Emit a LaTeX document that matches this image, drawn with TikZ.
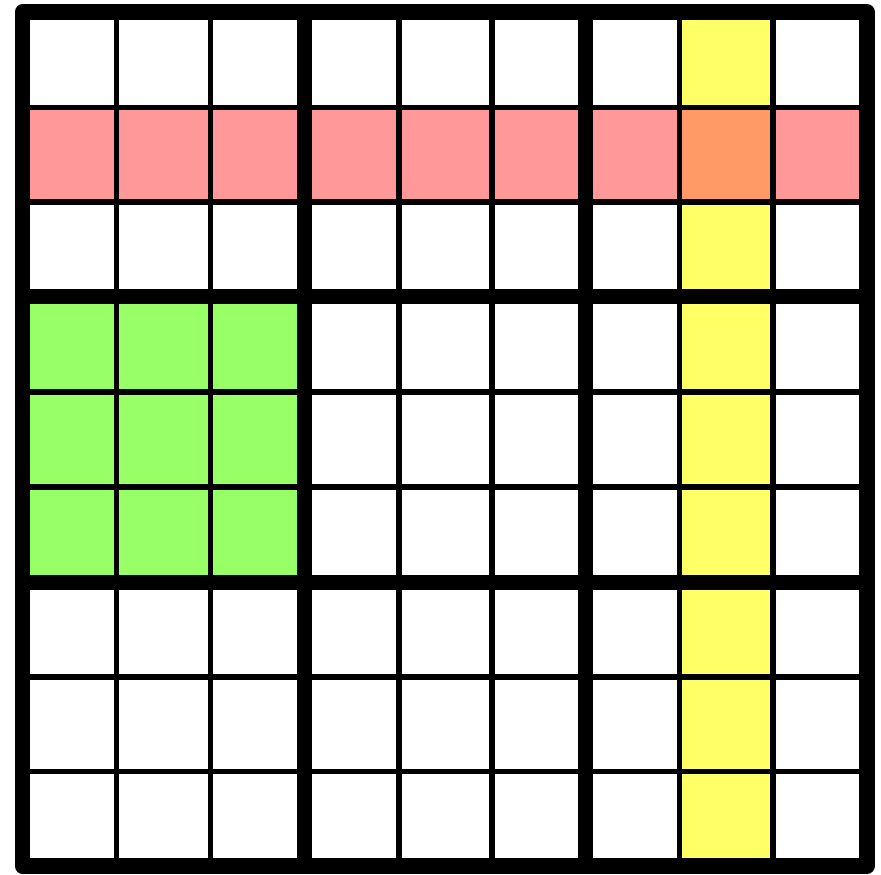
\documentclass[tikz,border=0pt]{standalone}
\definecolor{rowpink}{HTML}{FF9999}
\definecolor{colyellow}{HTML}{FFFF66}
\definecolor{cross}{HTML}{FF9966}
\definecolor{boxgreen}{HTML}{99FF66}
\begin{document}
\begin{tikzpicture}[x=1pt,y=-1pt,
  thinline/.style={line width=5.5pt,black},
  thickline/.style={line width=15.5pt,black}]
\useasboundingbox (0,0) rectangle (881,875);
\fill[white] (0,0) rectangle (881,875);
% columns x and rows y
\def\xs{{22.5,116.6,210.6,304.5,398.9,492.2,585.5,679.3,773.2,867}}
\def\ys{{12,107.5,202.2,296.5,391.8,486.8,582.5,677,771.6,866}}
\pgfmathsetmacro{\xa}{\xs[0]}\pgfmathsetmacro{\xb}{\xs[9]}
\pgfmathsetmacro{\ya}{\ys[0]}\pgfmathsetmacro{\yb}{\ys[9]}
% pink row
\fill[rowpink] (\xa,107.5) rectangle (\xb,202.2);
% yellow column
\fill[colyellow] (679.3,\ya) rectangle (773.2,\yb);
% intersection
\fill[cross] (679.3,107.5) rectangle (773.2,202.2);
% green box
\fill[boxgreen] (22.5,296.5) rectangle (304.5,582.5);
% thin lines
\foreach \i in {1,2,4,5,7,8}{
  \pgfmathsetmacro{\xx}{\xs[\i]}
  \pgfmathsetmacro{\yy}{\ys[\i]}
  \draw[thinline] (\xx,\ya) -- (\xx,\yb);
  \draw[thinline] (\xa,\yy) -- (\xb,\yy);
}
% thick lines
\foreach \i in {3,6}{
  \pgfmathsetmacro{\xx}{\xs[\i]}
  \pgfmathsetmacro{\yy}{\ys[\i]}
  \draw[thickline] (\xx,\ya) -- (\xx,\yb);
  \draw[thickline] (\xa,\yy) -- (\xb,\yy);
}
\draw[thickline,line join=round] (\xa,\ya) rectangle (\xb,\yb);
\end{tikzpicture}
\end{document}
